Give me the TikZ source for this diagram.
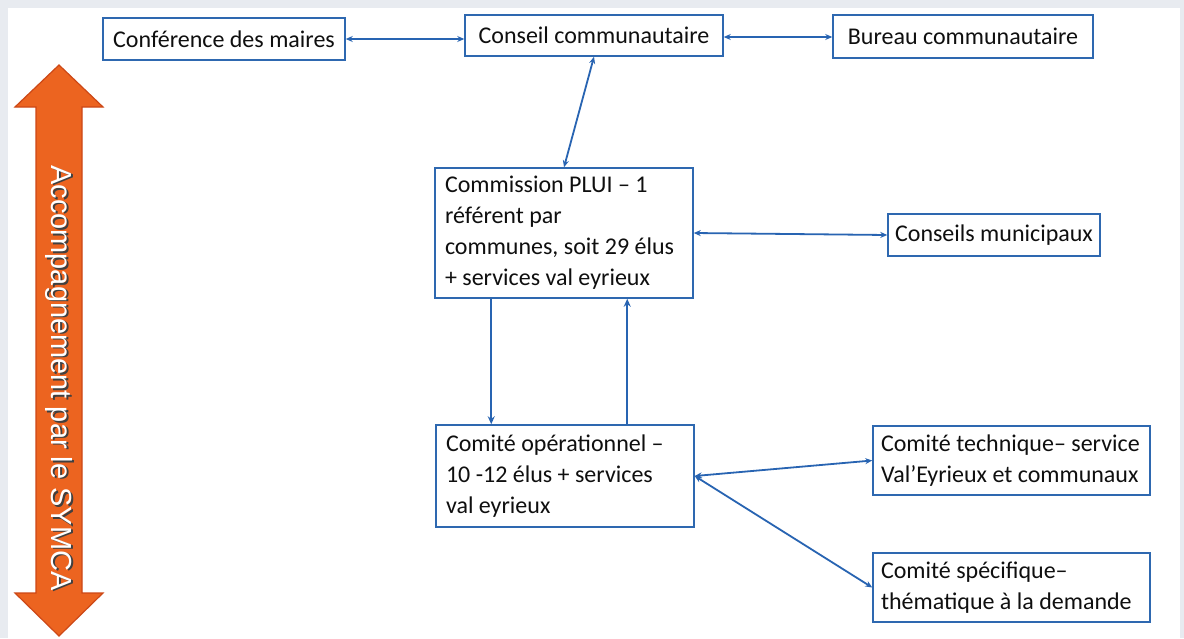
\documentclass[tikz,border=0pt]{standalone}
\usepackage{fontspec}
\setmainfont{Carlito}
\newfontfamily\arrowfont{Liberation Sans}
\usetikzlibrary{arrows.meta,calc}
\definecolor{boxblue}{RGB}{46,104,176}
\definecolor{linkblue}{RGB}{40,100,178}
\definecolor{txt}{RGB}{15,15,15}
\definecolor{orfill}{RGB}{236,100,32}
\definecolor{ordraw}{RGB}{205,72,22}
\definecolor{bgframe}{RGB}{232,235,240}
\tikzset{
  box/.style={draw=boxblue, line width=1.5pt, fill=white, text=txt, inner sep=0pt,
    font=\fontsize{24}{31}\selectfont},
  link/.style={draw=linkblue, line width=1.8pt, {Stealth[length=7pt,width=6pt]}-{Stealth[length=7pt,width=6pt]}},
  onelink/.style={draw=linkblue, line width=2pt, -{Stealth[length=8pt,width=7pt]}},
}
\begin{document}
\begin{tikzpicture}[x=1pt,y=-1pt]
\useasboundingbox (0,0) rectangle (1184,638);
\fill[bgframe] (0,0) rectangle (1184,638);
\fill[white] (8,8) rectangle (1180,638);
% orange double arrow
\filldraw[fill=orfill, draw=ordraw, line width=1.2pt, line join=miter]
  (59,65) -- (103,107) -- (82,107) -- (82,593) -- (103,593) -- (59,636)
  -- (15,593) -- (36,593) -- (36,107) -- (15,107) -- cycle;
\node[rotate=-90, text=black!75, font=\arrowfont\fontsize{29}{29}\selectfont] (symcashadow) at (60.5,379.5) {Accompagnement par le SYMCA};
\node[rotate=-90, text=white, font=\arrowfont\fontsize{29}{29}\selectfont] (symca) at (59,378) {Accompagnement par le SYMCA};
% boxes
\node[box, minimum width=242pt, minimum height=42pt, align=center] (conf) at (224,39) {Conférence des maires};
\node[box, minimum width=258pt, minimum height=41pt, align=center] (conseil) at (594,35.5) {Conseil communautaire};
\node[box, minimum width=260pt, minimum height=43pt, align=center] (bureau) at (963,36.5) {Bureau communautaire};
\node[box, minimum width=258pt, minimum height=130pt, text width=238pt, align=flush left] (comm) at (564,233)
  {Commission PLUI -- 1\\référent par\\communes, soit 29 élus\\+ services val eyrieux};
\node[box, minimum width=212pt, minimum height=42pt, align=center] (muni) at (994,235) {Conseils municipaux};
\node[box, minimum width=258pt, minimum height=102pt, text width=238pt, align=flush left] (op) at (565,476)
  {Comité opérationnel --\\10 -12 élus + services\\val eyrieux};
\node[box, minimum width=277pt, minimum height=69pt, text width=261pt, align=flush left] (tech) at (1011.5,460.5)
  {Comité technique-- service\\Val’Eyrieux et communaux};
\node[box, minimum width=277pt, minimum height=69pt, text width=261pt, align=flush left] (spec) at (1011.5,587.5)
  {Comité spécifique--\\thématique à la demande};
% connectors
\coordinate (cb) at ($(conseil.east)+(0,1.5)$);
\draw[link] (conf.east) -- (conf.east -| conseil.west);
\draw[link] (cb) -- (cb -| bureau.west);
\draw[link] (conseil.south) -- (comm.north);
\draw[link] (comm.east) -- (muni.west);
\draw[onelink] ($(comm.south west)+(57,0)$) -- ($(op.north west)+(56,0)$);
\draw[onelink] ($(op.north west)+(192,0)$) -- ($(comm.south west)+(193,0)$);
\draw[link] (op.east) -- (tech.west);
\draw[link] (op.east) -- (spec.west);
\end{tikzpicture}
\end{document}
